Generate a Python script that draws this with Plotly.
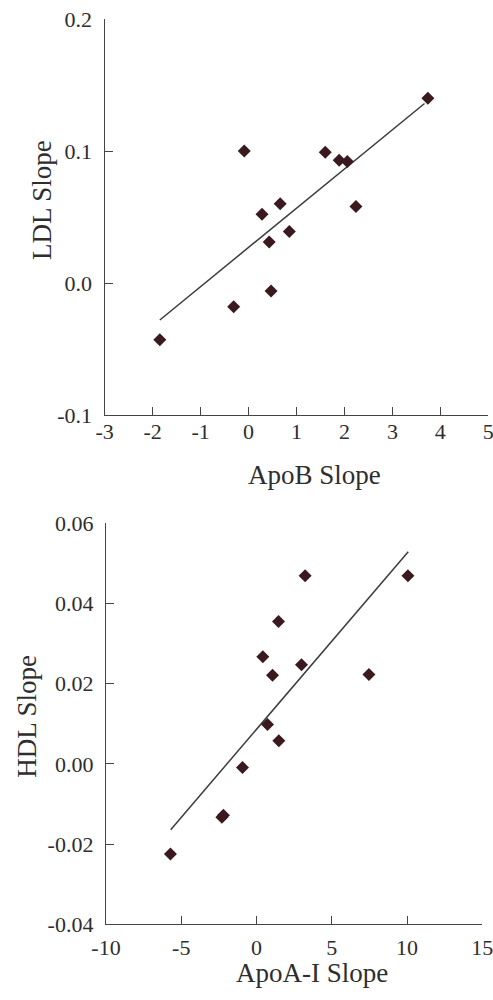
import plotly.graph_objects as go

# ApoB vs LDL slopes
apob_slope = [-1.85, -0.31, -0.09, 0.28, 0.43, 0.47, 0.66, 0.85, 1.60, 1.89, 2.06, 2.24, 3.74]
ldl_slope = [-0.043, -0.018, 0.100, 0.052, 0.031, -0.006, 0.060, 0.039, 0.099, 0.093, 0.092, 0.058, 0.140]
ldl_fit_x = [-1.85, 3.67]
ldl_fit_y = [-0.028, 0.136]

# ApoA-I vs HDL slopes
apoa_slope = [-5.72, -2.30, -2.20, -0.93, 0.42, 0.73, 1.06, 1.46, 1.48, 2.99, 3.23, 7.47, 10.06]
hdl_slope = [-0.0225, -0.0133, -0.0128, -0.0009, 0.0267, 0.0098, 0.0221, 0.0355, 0.0058, 0.0247, 0.0469, 0.0223, 0.0469]
hdl_fit_x = [-5.70, 10.08]
hdl_fit_y = [-0.0164, 0.0529]

top_xticks = [-3, -2, -1, 0, 1, 2, 3, 4, 5]
top_yticks = [-0.1, 0.0, 0.1, 0.2]
top_ytext = ["-0.1", "0.0", "0.1", "0.2"]
bot_xticks = [-10, -5, 0, 5, 10, 15]
bot_yticks = [-0.04, -0.02, 0.00, 0.02, 0.04, 0.06]
bot_ytext = ["-0.04", "-0.02", "0.00", "0.02", "0.04", "0.06"]

W, H = 493, 1000
MARK = "#3a1a1f"
INK = "#2e2e2e"
FONT = "Liberation Serif"

fig = go.Figure()
fig.add_trace(go.Scatter(x=ldl_fit_x, y=ldl_fit_y, mode="lines",
                         line=dict(color="#3c3c3c", width=1.5), xaxis="x", yaxis="y"))
fig.add_trace(go.Scatter(x=apob_slope, y=ldl_slope, mode="markers",
                         marker=dict(symbol="diamond", size=10, color=MARK), xaxis="x", yaxis="y"))
fig.add_trace(go.Scatter(x=hdl_fit_x, y=hdl_fit_y, mode="lines",
                         line=dict(color="#3c3c3c", width=1.5), xaxis="x2", yaxis="y2"))
fig.add_trace(go.Scatter(x=apoa_slope, y=hdl_slope, mode="markers",
                         marker=dict(symbol="diamond", size=10, color=MARK), xaxis="x2", yaxis="y2"))


def px_x(p):
    return p / W


def px_y(p):
    return 1 - p / H


axis_common = dict(showline=True, linecolor="#444444", linewidth=1.4, ticks="inside",
                   ticklen=8, tickwidth=1.3, tickcolor="#444444", showgrid=False,
                   zeroline=False, automargin=False, ticklabeloverflow="allow",
                   tickfont=dict(family=FONT, size=22, color=INK))

fig.update_layout(
    width=W, height=H, margin=dict(l=0, r=0, t=0, b=0),
    paper_bgcolor="white", plot_bgcolor="white", showlegend=False,
    xaxis=dict(domain=[px_x(104.7), px_x(488.3)], range=[-3, 5], anchor="y",
               tickvals=top_xticks, ticktext=[str(v) for v in top_xticks],
               ticklabelstandoff=-4, **axis_common),
    yaxis=dict(domain=[px_y(415), px_y(19)], range=[-0.1, 0.2], anchor="x",
               tickvals=top_yticks, ticktext=top_ytext, ticklabelstandoff=7, **axis_common),
    xaxis2=dict(domain=[px_x(106), px_x(482.3)], range=[-10, 15], anchor="y2",
                tickvals=bot_xticks, ticktext=[str(v) for v in bot_xticks],
                ticklabelstandoff=3, **axis_common),
    yaxis2=dict(domain=[px_y(924.3), px_y(523.3)], range=[-0.04, 0.06], anchor="x2",
                tickvals=bot_yticks, ticktext=bot_ytext, ticklabelstandoff=7, **axis_common),
)

title_font = dict(family=FONT, size=27, color=INK)
titles = [
    ("ApoB Slope", 314.5, 475, 0),
    ("LDL Slope", 42, 200, -90),
    ("ApoA-I Slope", 311.7, 973, 0),
    ("HDL Slope", 27, 716.7, -90),
]
for text, cx, cy, ang in titles:
    fig.add_annotation(text=text, x=px_x(cx), y=px_y(cy), xref="paper", yref="paper",
                       showarrow=False, textangle=ang, font=title_font,
                       xanchor="center", yanchor="middle")

fig.write_html("out.html")
